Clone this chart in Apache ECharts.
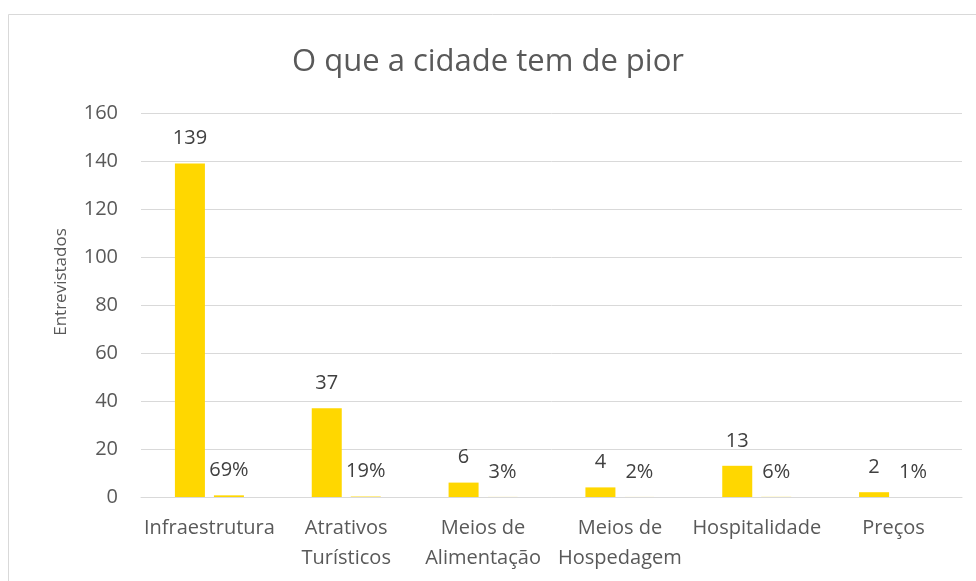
<!DOCTYPE html>
<html>
<head>
<meta charset="utf-8">
<script src="https://cdn.jsdelivr.net/npm/echarts@6/dist/echarts.min.js"></script>
<style>
  html, body { margin: 0; padding: 0; background: #ffffff; }
  #chart { width: 976px; height: 581px; }
</style>
</head>
<body>
<div id="chart"></div>
<script>
// Survey answers: what the city has that is worst
const categories = ['Infraestrutura', 'Atrativos\nTurísticos', 'Meios de\nAlimentação', 'Meios de\nHospedagem', 'Hospitalidade', 'Preços'];
const respondents = [139, 37, 6, 4, 13, 2];
const shares = [0.69, 0.19, 0.03, 0.02, 0.06, 0.01];
const yTicks = { min: 0, max: 160, interval: 20 };

const FONT = '"Open Sans", sans-serif';
const BAR_COLOR = '#FFD700';

const chart = echarts.init(document.getElementById('chart'), null, { renderer: 'canvas' });

chart.setOption({
  backgroundColor: '#ffffff',
  animation: false,
  title: {
    text: 'O que a cidade tem de pior',
    left: 'center',
    top: 42,
    textStyle: { fontFamily: FONT, fontSize: 31, fontWeight: 'normal', color: '#595959' }
  },
  graphic: [
    {
      type: 'rect',
      shape: { x: 8.5, y: 14.5, width: 1000, height: 600 },
      style: { fill: 'none', stroke: '#d9d9d9', lineWidth: 1 },
      silent: true
    },
    {
      type: 'text',
      x: 61, y: 282,
      rotation: Math.PI / 2,
      style: {
        text: 'Entrevistados',
        fontFamily: FONT, fontSize: 17, fill: '#595959',
        align: 'center', verticalAlign: 'middle'
      }
    }
  ],
  grid: { left: 141, right: 14, top: 113, bottom: 84, containLabel: false },
  xAxis: {
    type: 'category',
    data: categories,
    axisLine: { show: true, lineStyle: { color: '#d9d9d9' } },
    axisTick: { show: false },
    axisLabel: {
      interval: 0, margin: 16, color: '#595959',
      fontFamily: FONT, fontSize: 20, lineHeight: 30
    }
  },
  yAxis: {
    type: 'value',
    min: yTicks.min, max: yTicks.max, interval: yTicks.interval,
    axisLine: { show: false },
    axisTick: { show: false },
    splitLine: { lineStyle: { color: '#d9d9d9' } },
    axisLabel: { margin: 23, color: '#595959', fontFamily: FONT, fontSize: 20 }
  },
  series: [
    {
      name: 'Entrevistados',
      type: 'bar',
      data: respondents,
      barWidth: 30,
      barGap: '30%',
      itemStyle: { color: BAR_COLOR },
      label: {
        show: true, position: 'top', distance: 15,
        color: '#404040', fontFamily: FONT, fontSize: 20
      }
    },
    {
      name: 'Percentual',
      type: 'bar',
      data: shares,
      barWidth: 30,
      itemStyle: { color: BAR_COLOR },
      label: {
        show: true, position: 'top', distance: 15,
        color: '#404040', fontFamily: FONT, fontSize: 20,
        formatter: p => Math.round(p.value * 100) + '%'
      }
    }
  ]
});
</script>
</body>
</html>
